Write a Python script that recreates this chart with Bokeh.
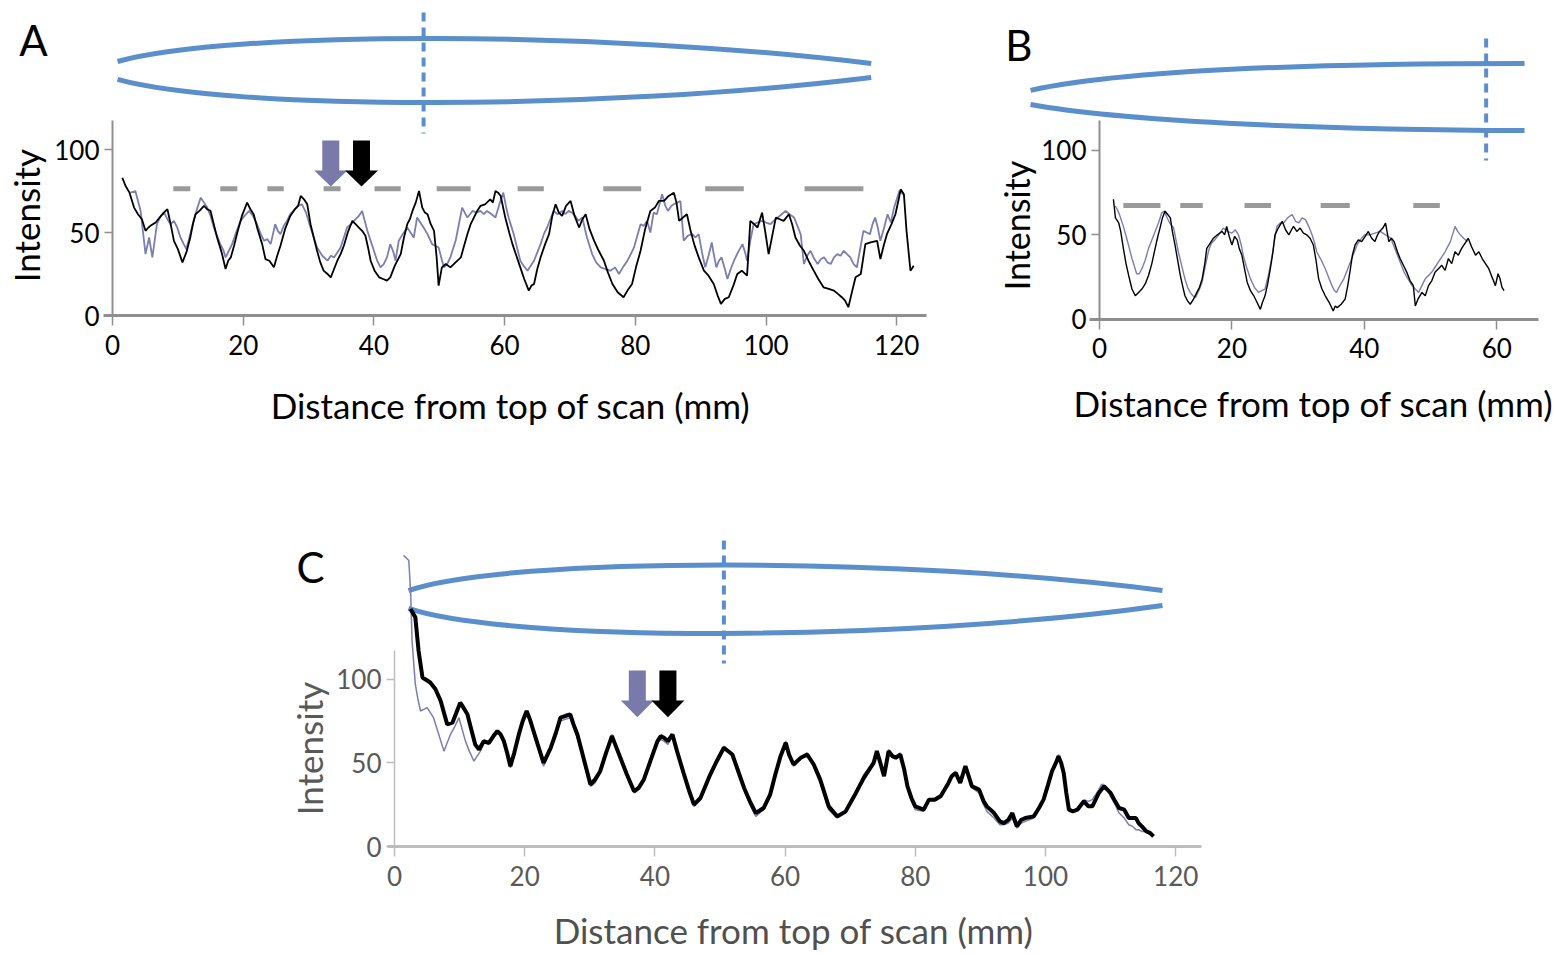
import math
from bokeh.plotting import figure
from bokeh.layouts import column, row
from bokeh.models import Range1d, LinearAxis, FixedTicker
from bokeh.core.properties import value
from bokeh.embed import file_html
from bokeh.resources import INLINE

FONT = "Lato"
LENS = "#5A8FCB"
PURPLE = "#7C7DB0"
DASH_GRAY = "#9A9A9A"

# ---------------- data ----------------
X_TICKS_120 = [0, 20, 40, 60, 80, 100, 120]
X_TICKS_60 = [0, 20, 40, 60]
Y_TICKS = [0, 50, 100]

A_BLACK = [(1.5,83),(2.0,78),(2.6,74),(3.3,65),(3.9,61),(4.5,58),(5.05,51),(5.5,53),(5.8,54),(6.6,56),(7.2,59),(7.85,62),(8.4,64),(8.9,55),(9.4,45),(10.0,40),(10.7,32),(11.3,38),(11.9,47),(12.3,55),(12.7,61),(13.3,63),(14.0,66),(14.5,64),(15.0,63),(15.5,55),(16.0,47),(16.7,38),(17.3,28),(17.7,33),(18.1,35),(18.6,42),(19.1,50),(19.8,60),(20.6,68),(21.1,64),(21.6,61),(22.2,52),(22.9,43),(23.4,34),(24.0,33),(24.7,29),(25.2,36),(25.7,42),(26.4,52),(27.2,60),(27.9,64),(28.4,66),(28.8,72),(29.3,70),(29.8,67),(30.3,55),(30.8,47),(31.3,39),(31.8,32),(32.3,27),(32.9,25),(33.4,23),(33.9,28),(34.4,33),(34.9,37),(35.4,42),(36.0,50),(36.7,57),(37.2,55),(37.7,53),(38.2,51),(38.7,48),(39.1,41),(39.5,33),(40.1,27),(40.8,23),(41.4,22),(42.0,21),(42.5,23),(43.2,30),(44.1,37),(44.6,47),(45.1,55),(45.5,58),(45.9,63),(46.4,68),(46.9,75),(47.4,65),(47.8,62),(48.2,61),(48.7,55),(49.2,51),(49.6,35),(49.9,18),(50.4,29),(51.0,31),(51.7,29),(52.5,32),(53.3,35),(53.8,42),(54.3,49),(54.8,55),(55.3,59),(55.8,63),(56.3,66),(57.0,67),(57.8,70),(58.2,68),(58.6,75),(59.0,74),(59.4,72),(60.1,59),(60.7,50),(61.2,43),(61.8,36),(62.4,29),(63.0,22),(63.7,15),(64.1,18),(64.5,19),(65.0,28),(65.5,35),(66.2,43),(66.8,49),(67.3,60),(67.8,67),(68.3,62),(68.8,60),(69.4,66),(70.1,69),(70.7,60),(71.4,53),(71.9,58),(72.4,61),(73.0,52),(73.7,45),(74.4,39),(75.2,33),(75.8,26),(76.5,19),(77.3,14),(78.2,11),(78.8,15),(79.5,19),(80.1,29),(80.8,39),(81.5,52),(82.3,63),(83.0,65),(83.6,69),(84.4,69),(85.1,72),(85.9,74),(86.3,68),(86.7,57),(87.3,59),(87.9,61),(88.4,52),(89.0,43),(89.7,35),(90.5,27),(91.2,24),(92.0,19),(92.6,12),(93.1,7),(93.7,10),(94.3,11),(95.0,18),(95.6,25),(96.3,27),(97.1,24),(97.6,57),(98.2,55),(98.7,53),(99.4,62),(99.9,50),(100.4,37),(101.0,49),(101.5,59),(102.1,58),(102.7,57),(103.5,61),(104.0,55),(104.5,47),(105.2,42),(105.8,39),(106.5,33),(107.3,27),(108.0,22),(108.8,17),(109.6,16),(110.4,15),(111.0,13),(111.6,11),(112.1,9),(112.6,5),(113.2,15),(113.7,23),(114.5,25),(115.2,43),(116.0,44),(117.0,45),(117.5,34),(118.0,42),(118.5,49),(119.2,55),(119.8,61),(120.3,70),(120.6,76),(121.1,73),(121.5,51),(122.1,27),(122.6,30)]

A_PURPLE = [(2.75,74),(3.5,75),(4.3,63),(5.05,37),(5.6,47),(6.1,35),(6.8,55),(7.4,60),(7.9,62),(8.4,58),(8.9,55),(9.4,57),(9.9,53),(10.4,47),(10.9,43),(11.3,40),(11.7,46),(12.4,57),(13.0,65),(13.5,71),(14.0,68),(14.5,65),(15.0,60),(15.5,53),(16.0,48),(16.5,43),(17.0,39),(17.3,35),(17.8,39),(18.3,43),(18.9,50),(19.6,57),(20.2,60),(20.9,63),(21.5,60),(22.1,55),(22.7,49),(23.2,45),(23.7,46),(24.2,43),(24.9,55),(25.3,51),(25.7,49),(26.2,54),(26.7,57),(27.2,61),(27.7,63),(28.3,66),(29.0,67),(29.6,62),(30.3,53),(30.8,47),(31.3,41),(32.1,36),(32.9,33),(33.4,36),(33.9,35),(34.4,38),(34.9,41),(35.4,47),(35.9,53),(36.5,55),(37.2,58),(37.7,60),(38.2,63),(38.6,57),(39.0,51),(39.5,45),(40.0,39),(40.5,33),(41.0,29),(41.5,31),(42.0,35),(42.5,43),(43.0,38),(43.3,33),(43.8,45),(44.4,49),(45.1,53),(45.6,50),(46.1,47),(46.6,59),(47.1,56),(47.6,53),(48.2,49),(48.9,43),(49.4,42),(49.9,41),(50.3,35),(50.7,29),(51.2,31),(51.7,35),(52.1,40),(52.5,45),(53.0,55),(53.5,65),(53.9,62),(54.3,59),(54.7,61),(55.1,63),(55.7,62),(56.3,63),(56.8,61),(57.3,63),(58.0,61),(58.6,59),(59.2,67),(59.8,74),(60.2,66),(60.6,59),(61.0,54),(61.4,49),(61.9,41),(62.4,33),(62.9,30),(63.5,27),(64.0,30),(64.5,33),(65.0,38),(65.5,43),(66.0,49),(66.5,53),(67.0,58),(67.5,63),(68.1,61),(68.8,63),(69.3,61),(69.8,63),(70.3,62),(70.8,60),(71.3,57),(71.9,59),(72.3,52),(72.6,47),(73.0,42),(73.4,37),(74.0,32),(74.7,29),(75.4,28),(76.2,27),(76.9,29),(77.5,25),(78.1,29),(78.8,33),(79.3,37),(79.8,41),(80.3,48),(80.8,55),(81.3,54),(81.8,57),(82.3,50),(82.8,62),(83.3,61),(84.1,73),(84.6,66),(85.0,63),(85.5,66),(85.9,67),(86.4,68),(86.9,69),(87.4,45),(88.0,48),(88.7,49),(89.2,47),(89.7,49),(90.2,38),(90.7,29),(91.2,36),(91.7,44),(92.0,37),(92.4,29),(92.8,33),(93.2,35),(93.7,28),(94.1,22),(94.6,28),(95.1,33),(95.7,38),(96.4,43),(96.8,38),(97.1,33),(97.6,45),(98.1,55),(98.7,56),(99.4,57),(100.0,56),(100.7,55),(101.2,57),(101.8,59),(102.4,61),(103.0,63),(103.6,61),(104.3,59),(104.8,54),(105.3,49),(105.8,31),(106.3,36),(106.8,39),(107.4,34),(107.9,31),(108.4,34),(108.9,35),(109.4,32),(109.9,31),(110.4,35),(110.9,37),(111.4,36),(111.9,39),(112.4,37),(112.9,35),(113.4,31),(113.9,29),(114.4,40),(114.9,51),(115.4,50),(115.9,49),(116.3,55),(116.7,59),(117.1,53),(117.5,45),(118.0,52),(118.6,61),(119.1,56),(119.6,65),(120.0,70),(120.4,75),(121.0,73)]

B_BLACK = [(2.1,71),(2.4,60),(2.9,57),(3.2,52),(3.6,42),(4.0,33),(4.4,26),(4.9,18),(5.4,14),(5.9,16),(6.4,18),(6.9,21),(7.4,26),(7.9,33),(8.4,42),(8.8,49),(9.2,55),(9.5,60),(9.9,64),(10.3,62),(10.7,60),(11.0,52),(11.4,44),(11.8,35),(12.2,26),(12.6,19),(12.9,14),(13.3,11),(13.7,9),(14.2,12),(14.7,16),(15.1,19),(15.5,24),(15.9,33),(16.2,42),(16.7,45),(17.2,48),(17.8,50),(18.5,52),(18.9,50),(19.2,55),(19.6,49),(20.0,44),(20.4,49),(20.8,47),(21.1,42),(21.5,38),(21.9,30),(22.3,22),(22.8,17),(23.3,14),(23.8,10),(24.3,6),(24.6,10),(25.0,14),(25.4,21),(25.8,30),(26.2,40),(26.5,50),(27.0,54),(27.6,58),(28.1,53),(28.6,50),(29.0,53),(29.3,55),(29.8,52),(30.3,54),(30.8,51),(31.3,50),(31.8,48),(32.3,44),(32.7,35),(33.1,24),(33.6,18),(34.1,14),(34.7,10),(35.3,5),(35.6,8),(35.9,7),(36.5,9),(37.1,12),(37.5,20),(37.9,30),(38.2,38),(38.6,44),(39.1,47),(39.6,46),(40.1,49),(40.6,52),(41.1,48),(41.6,46),(42.0,50),(42.3,52),(42.8,54),(43.2,57),(43.7,46),(44.1,48),(44.5,46),(45.0,40),(45.4,36),(45.9,32),(46.4,28),(46.9,23),(47.4,20),(47.7,8),(48.1,12),(48.7,16),(49.2,14),(49.7,20),(50.2,23),(50.7,28),(51.2,30),(51.7,32),(52.2,29),(52.7,36),(53.2,33),(53.7,40),(54.2,38),(54.7,42),(55.2,45),(55.7,48),(56.2,43),(56.8,38),(57.3,40),(57.8,36),(58.3,33),(58.8,30),(59.3,25),(59.8,20),(60.2,27),(60.5,24),(60.8,19),(61.1,17)]

B_PURPLE = [(2.4,67),(2.8,64),(3.1,61),(3.6,55),(4.1,48),(4.5,42),(4.9,36),(5.3,31),(5.6,27),(6.0,27),(6.4,30),(6.9,35),(7.4,42),(7.9,47),(8.4,52),(8.9,57),(9.4,63),(9.8,64),(10.1,61),(10.6,57),(11.2,54),(11.6,46),(11.9,40),(12.4,32),(12.9,24),(13.3,19),(13.7,16),(14.1,14),(14.5,13),(15.0,17),(15.5,22),(16.0,32),(16.5,41),(16.9,45),(17.4,47),(18.0,50),(18.7,54),(19.3,52),(20.0,51),(20.5,53),(21.0,50),(21.4,44),(21.7,38),(22.2,31),(22.8,24),(23.4,19),(24.0,16),(24.5,17),(25.0,18),(25.5,26),(26.0,36),(26.4,46),(26.8,55),(27.3,57),(27.8,57),(28.4,60),(29.1,62),(29.6,58),(30.1,57),(30.6,60),(31.1,59),(31.6,55),(32.1,50),(32.5,45),(32.8,40),(33.5,35),(34.1,30),(34.6,25),(35.1,20),(35.5,17),(35.8,16),(36.3,20),(36.9,24),(37.4,29),(37.9,34),(38.4,39),(38.9,44),(39.4,47),(40.0,50),(40.8,50),(41.6,51),(42.4,52),(43.2,50),(43.6,49),(44.0,48),(44.6,42),(45.2,36),(45.6,32),(46.0,28),(46.6,24),(47.2,20),(47.7,18),(48.2,16),(48.7,20),(49.2,24),(49.7,26),(50.2,28),(50.7,31),(51.2,34),(51.7,37),(52.2,40),(52.6,43),(53.0,46),(53.4,51),(53.7,55),(54.1,52),(54.5,50),(55.0,48),(55.6,46)]

C_BLACK = [(2.46,142),(3.2,137),(3.7,117),(4.3,101),(5.5,98),(6.3,94),(7.1,87),(7.6,80),(8.1,73),(8.9,74),(9.5,80),(10.1,86),(10.6,83),(11.2,79),(11.8,70),(12.4,61),(13.0,58),(13.7,63),(14.5,62),(15.2,66),(15.8,69),(16.3,67),(16.8,63),(17.3,56),(17.8,48),(18.4,56),(19.1,67),(19.7,75),(20.3,81),(20.8,76),(21.2,71),(22.0,61),(22.9,50),(24.0,59),(24.8,68),(25.5,77),(26.2,78),(27.0,79),(27.5,73),(28.1,67),(29.1,52),(30.1,37),(30.8,40),(31.6,45),(32.5,56),(33.4,66),(34.0,60),(34.7,53),(35.7,43),(36.8,33),(37.5,35),(38.3,40),(39.3,51),(40.4,63),(40.9,66),(41.4,65),(42.0,63),(42.7,67),(43.4,57),(44.4,44),(45.2,34),(46.0,25),(47.0,29),(48.5,43),(49.5,51),(50.6,59),(51.9,55),(52.8,45),(53.7,35),(54.6,27),(55.5,20),(56.7,23),(57.7,31),(58.5,43),(59.3,54),(60.1,62),(60.6,55),(61.3,49),(62.4,53),(63.4,55),(64.4,49),(65.4,40),(66.7,24),(68.0,18),(69.3,21),(70.6,30),(72.1,41),(73.1,47),(73.6,50),(74.1,57),(74.7,49),(75.2,42),(75.9,57),(76.5,54),(77.0,53),(77.7,55),(78.3,46),(78.8,36),(79.4,29),(80.0,24),(81.3,22),(82.1,28),(83.0,28),(83.9,30),(85.1,38),(85.6,42),(86.2,44),(86.9,38),(87.7,48),(88.2,42),(88.7,36),(89.8,34),(90.5,27),(91.0,24),(92.1,20),(93.0,15),(93.6,14),(94.3,16),(94.9,20),(95.6,12),(96.3,16),(96.9,17),(98.2,18),(99.0,23),(99.7,28),(100.4,37),(101.0,45),(101.6,50),(102.0,54),(102.4,50),(102.8,44),(103.2,32),(103.6,22),(104.2,21),(104.9,22),(105.9,27),(106.6,24),(107.2,24),(108.2,32),(108.6,34),(109.0,36),(109.5,34),(110.0,32),(110.7,27),(111.3,23),(112.1,22),(112.8,17),(113.4,17),(113.9,17),(114.3,14),(114.8,12),(115.5,9),(116.1,8),(116.6,6)]

C_PURPLE = [(1.4,174),(2.2,171),(2.5,150),(2.7,123),(3.2,97),(3.6,88),(4.0,81),(4.5,82),(5.0,83),(5.5,80),(6.0,77),(6.8,67),(7.6,57),(8.1,62),(8.6,67),(9.3,72),(9.9,77),(10.4,70),(10.9,63),(11.5,57),(12.2,51),(12.7,54),(13.2,57),(13.8,62),(14.5,61),(15.2,65),(15.8,68),(16.3,66),(16.8,62),(17.3,55),(17.8,47),(18.4,55),(19.1,66),(19.7,74),(20.3,80),(20.8,75),(21.2,69),(22.0,59),(22.9,48),(24.0,58),(24.8,67),(25.5,75),(26.2,76),(27.0,77),(27.5,71),(28.1,65),(29.1,50),(30.1,36),(30.8,38),(31.6,44),(32.5,56),(33.4,67),(34.0,61),(34.7,53),(35.7,42),(36.8,32),(37.5,34),(38.3,40),(39.3,51),(40.4,62),(40.9,64),(41.4,63),(42.0,61),(42.7,66),(43.4,56),(44.4,43),(45.2,32),(46.0,24),(47.0,28),(48.5,42),(49.5,52),(50.6,60),(51.9,54),(52.8,45),(53.7,34),(54.6,25),(55.5,18),(56.7,22),(57.7,30),(58.5,43),(59.3,55),(60.1,63),(60.6,56),(61.3,48),(62.4,53),(63.4,56),(64.4,48),(65.4,38),(66.7,22),(68.0,17),(69.3,20),(70.6,31),(72.1,43),(73.1,48),(73.6,51),(74.1,57),(74.7,50),(75.2,43),(75.9,58),(76.5,55),(77.0,54),(77.7,56),(78.3,45),(78.8,35),(79.4,27),(80.0,22),(81.3,21),(82.1,27),(83.0,29),(83.9,31),(85.1,39),(85.6,43),(86.2,45),(86.9,39),(87.7,48),(88.2,41),(88.7,35),(89.8,32),(90.5,25),(91.0,21),(92.1,17),(93.0,13),(93.6,13),(94.3,14),(94.9,17),(95.6,11),(96.3,14),(96.9,15),(98.2,17),(99.0,23),(99.7,28),(100.4,38),(101.0,46),(101.6,51),(102.0,55),(102.4,51),(102.8,44),(103.2,31),(103.6,22),(104.2,21),(104.9,23),(105.9,28),(106.6,27),(107.2,28),(108.2,34),(108.6,37),(109.0,37),(109.5,34),(110.0,30),(110.7,25),(111.3,20),(112.1,17),(112.8,13),(113.4,12),(113.9,10),(114.3,10),(114.8,9),(115.5,9),(116.1,7)]

# gray dashed reference segments (start, end) and their level
A_DASH_START = [9.3, 16.5, 23.7, 32.3, 40.1, 49.6, 62.0, 75.1, 90.7, 105.9]
A_DASH_END = [11.9, 19.1, 26.2, 34.9, 44.1, 54.8, 66.0, 80.9, 96.6, 114.9]
A_DASH_LEVEL = 76.3
B_DASH_START = [3.6, 12.2, 21.9, 33.4, 47.4]
B_DASH_END = [9.2, 15.6, 25.9, 37.8, 51.4]
B_DASH_LEVEL = 67.3

# arrows (purple, black): x positions and top / head-base / tip levels
A_ARROW_X = [33.4, 38.1]
C_ARROW_X = [37.3, 42.0]
A_ARROW_Y = (105.4, 87.3, 77.7)
C_ARROW_Y = (105.2, 87.3, 77.3)

# scan-position markers
A_SCAN_X = 47.6
B_SCAN_X = 58.4
C_SCAN_X = 50.6

# ---------------- helpers ----------------
def split(pairs):
    return [a for a, _ in pairs], [b for _, b in pairs]


def panel(w, h, xr, yr):
    p = figure(width=w, height=h, x_range=Range1d(*xr), y_range=Range1d(*yr),
               x_axis_type=None, y_axis_type=None, output_backend="svg",
               toolbar_location=None, min_border=0)
    p.min_border_left = p.min_border_right = 0
    p.min_border_top = p.min_border_bottom = 0
    p.outline_line_color = None
    p.background_fill_color = "white"
    p.border_fill_color = "white"
    return p


def add_axes(p, xticks, xbounds, ybounds, line_color, xw, yw, label_color):
    xa = LinearAxis(ticker=FixedTicker(ticks=xticks, minor_ticks=[]), fixed_location=0, bounds=xbounds)
    ya = LinearAxis(ticker=FixedTicker(ticks=Y_TICKS, minor_ticks=[]), fixed_location=0, bounds=ybounds)
    for ax, w in ((xa, xw), (ya, yw)):
        ax.axis_line_color = line_color
        ax.axis_line_width = w
        ax.major_tick_line_color = line_color
        ax.major_tick_line_width = 1.5
        ax.major_tick_in = 0
        ax.minor_tick_in = 0
        ax.minor_tick_out = 0
        ax.major_label_text_font = FONT
        ax.major_label_text_font_size = "26px"
        ax.major_label_text_color = label_color
    xa.major_tick_out = 10
    xa.major_label_standoff = 9
    ya.major_tick_out = 8
    ya.major_label_standoff = 5
    p.add_layout(xa, "below")
    p.add_layout(ya, "left")


def lens(p, upper, lower, scan_x, scan_y0, scan_y1):
    for c in (upper, lower):
        (x0, y0), (cx0, cy0), (cx1, cy1), (x1, y1) = c
        p.bezier(x0=[x0], y0=[y0], x1=[x1], y1=[y1], cx0=[cx0], cy0=[cy0], cx1=[cx1], cy1=[cy1],
                 line_color=LENS, line_width=5)
    p.segment(x0=[scan_x], y0=[scan_y0], x1=[scan_x], y1=[scan_y1], line_color=LENS,
              line_width=4, line_dash="9 6")


def arrows(p, xs, ys, px_per_unit):
    top, base, tip = ys
    sw = 8.5 / px_per_unit
    hw = 16.5 / px_per_unit
    pxs, pys = [], []
    for xc in xs:
        pxs.append([xc - sw, xc + sw, xc + sw, xc + hw, xc, xc - hw, xc - sw])
        pys.append([top, top, base, base, tip, base, base])
    p.patches(xs=pxs, ys=pys, fill_color=["#7A7AAA", "black"], line_color=None)


def txt(p, x, y, s, size, color="black", angle=0.0):
    p.text(x=[x], y=[y], text=[s], text_font=value(FONT), text_font_size=value(size),
           text_color=color, text_align="center", text_baseline="middle", angle=angle)


# ---------------- panel A ----------------
# page mapping: x 0 at 112px (6.535 px/unit), y 0 at 315px (1.66 px/unit)
pA = panel(990, 448, (-17.14, 134.35), (-80.12, 189.76))
add_axes(pA, X_TICKS_120, (-1.4, 124.5), (0, 117.5), "#8F8F8F", 3, 2, "black")
lens(pA, [(0.77, 153.0), (18.1, 171.7), (74.7, 171.7), (116.1, 151.8)],
     [(0.77, 142.2), (18.1, 123.5), (74.7, 123.5), (116.1, 143.4)], A_SCAN_X, 182.5, 109.6)
pA.segment(x0=A_DASH_START, x1=A_DASH_END, y0=[A_DASH_LEVEL] * len(A_DASH_START),
           y1=[A_DASH_LEVEL] * len(A_DASH_START), line_color=DASH_GRAY, line_width=5)
ax_, ay_ = split(A_PURPLE)
pA.line(ax_, ay_, line_color=PURPLE, line_width=1.8)
ax_, ay_ = split(A_BLACK)
pA.line(ax_, ay_, line_color="black", line_width=1.8)
arrows(pA, A_ARROW_X, A_ARROW_Y, 6.535)
txt(pA, -12.1, 165.7, "A", "42px")
txt(pA, -13.3, 60.2, "Intensity", "35px", angle=math.pi / 2)
txt(pA, 60.9, -54.2, "Distance from top of scan (mm)", "35px")

# ---------------- panel B ----------------
# page mapping: x 0 at 1099px (6.62 px/unit), y 0 at 319px (1.693 px/unit)
pB = panel(567, 448, (-16.47, 69.18), (-76.2, 188.4))
add_axes(pB, X_TICKS_60, (-1.5, 66.3), (0, 117.5), "#8F8F8F", 3, 2, "black")
lens(pB, [(-10.42, 135.3), (3.17, 147.1), (30.36, 151.2), (64.2, 151.2)],
     [(-10.42, 127.0), (3.17, 117.5), (30.36, 112.2), (64.2, 111.6)], B_SCAN_X, 166.0, 93.9)
pB.segment(x0=B_DASH_START, x1=B_DASH_END, y0=[B_DASH_LEVEL] * len(B_DASH_START),
           y1=[B_DASH_LEVEL] * len(B_DASH_START), line_color=DASH_GRAY, line_width=5)
bx_, by_ = split(B_PURPLE)
pB.line(bx_, by_, line_color=PURPLE, line_width=1.4)
bx_, by_ = split(B_BLACK)
pB.line(bx_, by_, line_color="black", line_width=1.4)
txt(pB, -12.2, 162.4, "B", "42px")
txt(pB, -12.6, 55.5, "Intensity", "34px", angle=math.pi / 2)
txt(pB, 32.3, -49.6, "Distance from top of scan (mm)", "35px")

# ---------------- panel C ----------------
# page mapping: x 0 at 394px (6.51 px/unit), y 0 at 846px (1.673 px/unit)
pC = panel(1557, 506, (-60.52, 178.65), (-64.55, 237.9))
add_axes(pC, X_TICKS_120, (-1.0, 124.0), (0, 117.2), "#BDBDBD", 3, 1.5, "#595959")
lens(pC, [(2.15, 153.0), (17.36, 173.4), (77.7, 173.4), (117.97, 153.0)],
     [(2.15, 142.3), (17.36, 122.1), (77.7, 122.1), (117.97, 144.1)], C_SCAN_X, 182.9, 109.4)
cx_, cy_ = split(C_PURPLE)
pC.line(cx_, cy_, line_color=PURPLE, line_width=1.5)
cx_, cy_ = split(C_BLACK)
pC.line(cx_, cy_, line_color="black", line_width=4)
arrows(pC, C_ARROW_X, C_ARROW_Y, 6.51)
txt(pC, -12.9, 166.8, "C", "42px")
txt(pC, -13.2, 58.6, "Intensity", "35px", color="#595959", angle=math.pi / 2)
txt(pC, 61.3, -50.0, "Distance from top of scan (mm)", "35px", color="#505050")

layout = column(row(pA, pB, spacing=0), pC, spacing=0)
open("out.html", "w").write(file_html(layout, INLINE))
